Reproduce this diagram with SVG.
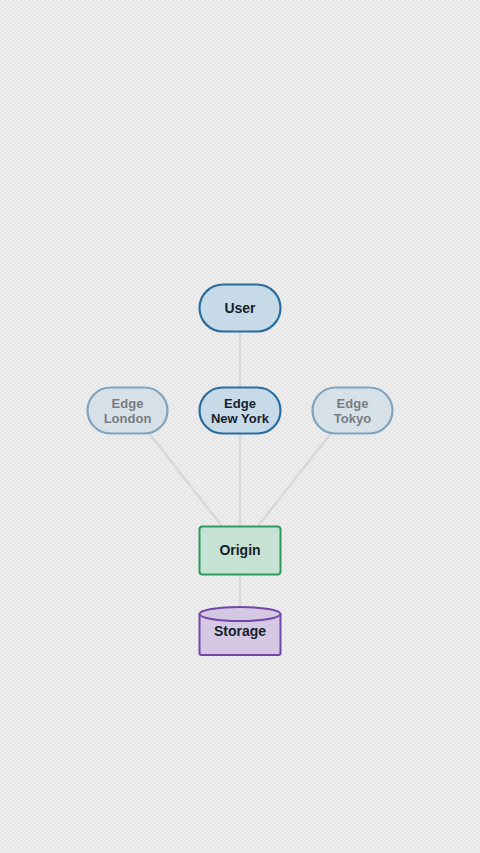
<svg xmlns="http://www.w3.org/2000/svg" width="480" height="853" viewBox="0 0 480 853">
<style>
.edge{fill:#c6dae7;stroke:#2b6d9f;stroke-width:2.2}
.faded{opacity:0.55}
.lbl{font-family:"Liberation Sans",Arial,sans-serif;font-weight:bold;font-size:14px;fill:#17212b;text-anchor:middle}
.lbl2{font-family:"Liberation Sans",Arial,sans-serif;font-weight:bold;font-size:13px;fill:#17212b;text-anchor:middle}
.conn{stroke:#d9d9dc;stroke-width:2.5;fill:none}
</style>
<defs>
<pattern id="bg" width="4" height="4" patternUnits="userSpaceOnUse">
<rect width="4" height="4" fill="#eeeeee"/>
<rect width="2" height="2" fill="#e6e6e6"/>
<rect x="2" y="2" width="2" height="2" fill="#e6e6e6"/>
</pattern>
</defs>
<rect width="480" height="853" fill="url(#bg)"/>
<g id="connectors">
<line class="conn" x1="240" y1="332" x2="240" y2="387"/>
<line class="conn" x1="240" y1="434" x2="240" y2="526"/>
<line class="conn" x1="148" y1="432" x2="222" y2="526"/>
<line class="conn" x1="332" y1="432" x2="258" y2="526"/>
<line class="conn" x1="240" y1="575" x2="240" y2="607"/>
</g>
<g id="user">
<rect class="edge" x="199.5" y="284.5" width="81" height="47" rx="23.5"/>
<text class="lbl" x="240" y="313">User</text>
</g>
<g id="edge-london" class="faded">
<rect class="edge" x="87.5" y="387.5" width="80" height="46" rx="23"/>
<text class="lbl2" x="127.5" y="408">Edge</text>
<text class="lbl2" x="127.5" y="423">London</text>
</g>
<g id="edge-newyork">
<rect class="edge" x="199.5" y="387.5" width="81" height="46" rx="23"/>
<text class="lbl2" x="240" y="408">Edge</text>
<text class="lbl2" x="240" y="423">New York</text>
</g>
<g id="edge-tokyo" class="faded">
<rect class="edge" x="312.5" y="387.5" width="80" height="46" rx="23"/>
<text class="lbl2" x="352.5" y="408">Edge</text>
<text class="lbl2" x="352.5" y="423">Tokyo</text>
</g>
<g id="origin">
<rect x="199.5" y="526.5" width="81" height="48" rx="3" fill="#c5e2d3" stroke="#2f9a5f" stroke-width="2"/>
<text class="lbl" x="240" y="555">Origin</text>
</g>
<g id="storage">
<path d="M199.5,614 L199.5,653 Q199.5,655 201.5,655 L278.5,655 Q280.5,655 280.5,653 L280.5,614" fill="#d4c8e3" stroke="#7445a8" stroke-width="2"/>
<ellipse cx="240" cy="614" rx="40.5" ry="7" fill="#d4c8e3" stroke="#7445a8" stroke-width="2"/>
<text class="lbl" x="240" y="636">Storage</text>
</g>
</svg>
